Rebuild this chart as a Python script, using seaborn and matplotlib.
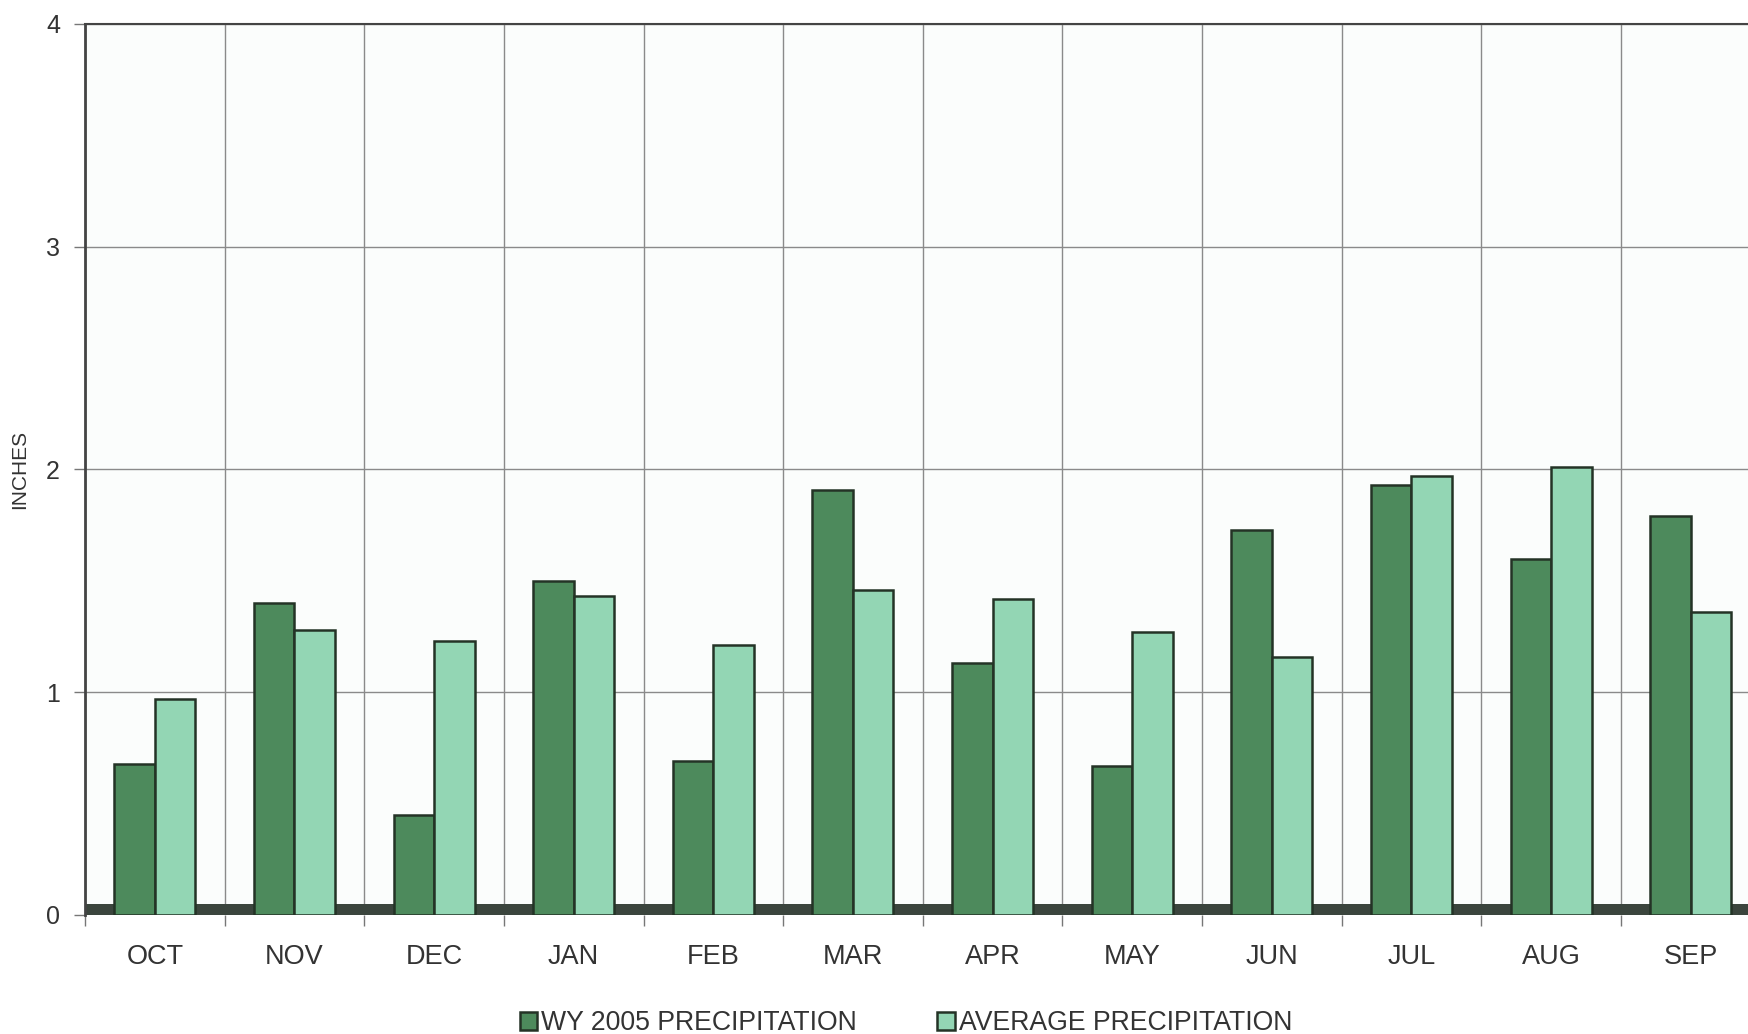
import matplotlib
matplotlib.use("Agg")
import matplotlib.pyplot as plt
from matplotlib.ticker import FixedLocator
import seaborn as sns
import pandas as pd
import numpy as np

months = ["OCT", "NOV", "DEC", "JAN", "FEB", "MAR",
          "APR", "MAY", "JUN", "JUL", "AUG", "SEP"]
wy2005 = [0.68, 1.40, 0.45, 1.50, 0.69, 1.91, 1.13, 0.67, 1.73, 1.93, 1.60, 1.79]
average = [0.97, 1.28, 1.23, 1.43, 1.21, 1.46, 1.42, 1.27, 1.16, 1.97, 2.01, 1.36]
series_names = ["WY 2005 PRECIPITATION", "AVERAGE PRECIPITATION"]
y_ticks = [0, 1, 2, 3, 4]

df = pd.DataFrame({
    "month": months * 2,
    "inches": wy2005 + average,
    "series": [series_names[0]] * len(months) + [series_names[1]] * len(months),
})

sns.set_theme(style="white")
plt.rcParams["font.family"] = ["Liberation Sans", "DejaVu Sans"]

fig = plt.figure(figsize=(17.49, 10.34), dpi=100)
ax = fig.add_axes([0.0486, 0.1151, 0.958, 0.8617])
ax.set_facecolor("#fbfdfc")

palette = {series_names[0]: "#4d8a5c", series_names[1]: "#93d6b4"}
sns.barplot(data=df, x="month", y="inches", hue="series", order=months,
            hue_order=series_names, palette=palette, width=0.58,
            edgecolor="#243326", linewidth=1.8, saturation=1,
            ax=ax, zorder=3, legend=True)

# dark floor strip along the base
ax.axhspan(0, 0.05, color="#3b453d", zorder=2, lw=0)

ax.set_xlim(-0.5, len(months) - 0.5)
ax.set_ylim(0, 4)
ax.set_yticks(y_ticks)
ax.set_yticklabels([str(t) for t in y_ticks])

# category boundaries carry the vertical grid and the x tick marks
bounds = np.arange(-0.5, len(months) + 0.5, 1.0)
ax.xaxis.set_minor_locator(FixedLocator(bounds))
ax.tick_params(axis="x", which="major", length=0, pad=21,
               labelsize=19.5, labelcolor="#333333")
ax.tick_params(axis="x", which="minor", length=8, width=1.0,
               color="#777777", direction="out", bottom=True)
ax.tick_params(axis="y", which="major", length=8, width=1.0,
               color="#777777", direction="out", left=True, pad=10,
               labelsize=18, labelcolor="#333333")

ax.grid(False)
ax.grid(axis="y", which="major", color="#8a8a8a", linewidth=1.0, zorder=1)
ax.grid(axis="x", which="minor", color="#8a8a8a", linewidth=1.0, zorder=1)
ax.set_axisbelow(True)

for side in ["left", "top"]:
    ax.spines[side].set_visible(True)
    ax.spines[side].set_color("#444444")
ax.spines["left"].set_linewidth(2.0)
ax.spines["top"].set_linewidth(1.5)
ax.spines["bottom"].set_visible(False)
ax.spines["right"].set_visible(False)

ax.set_xlabel("")
ax.set_ylabel("INCHES", fontsize=15, color="#333333", labelpad=12)

handles, labels = ax.get_legend_handles_labels()
ax.get_legend().remove()
fig.legend(handles, labels, loc="center", bbox_to_anchor=(0.518, 0.0105),
           ncol=2, frameon=False, fontsize=19.2, handlelength=0.65,
           handleheight=0.65, handletextpad=0.15, columnspacing=3.0,
           labelcolor="#333333")

fig.savefig("out.png", dpi=100)
